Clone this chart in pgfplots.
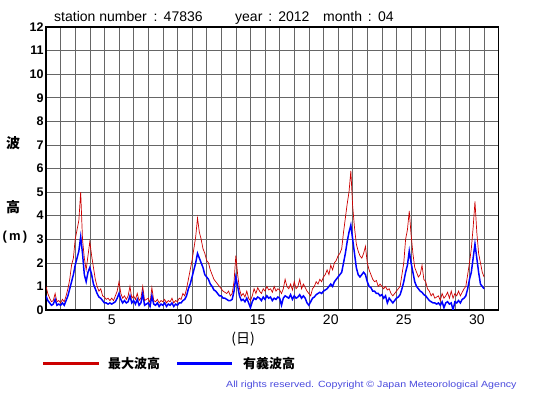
\documentclass[border=0pt]{standalone}
\usepackage{fontspec}
\setmainfont{Liberation Sans}
\newfontfamily\cjk{Noto Sans CJK JP}
\usepackage{pgfplots}
\usepackage{pgfplotstable}
\pgfplotsset{compat=1.18}
\definecolor{maxred}{HTML}{CC0000}
\definecolor{sigblue}{HTML}{0000FF}
\definecolor{copyblue}{HTML}{4A4ADD}
\definecolor{gridgray}{HTML}{666666}

\pgfplotstableread{
t r b
0 1.0 0.6
0.125 0.7 0.4
0.25 0.5 0.3
0.375 0.35 0.2
0.5 0.4 0.25
0.625 0.7 0.45
0.75 0.35 0.2
0.875 0.4 0.25
1.0 0.3 0.2
1.125 0.45 0.3
1.25 0.35 0.2
1.375 0.6 0.4
1.5 0.9 0.6
1.625 1.3 0.9
1.75 1.9 1.2
1.875 2.2 1.5
2.0 3.0 1.9
2.125 3.4 2.2
2.25 3.8 2.5
2.375 5.0 3.1
2.5 3.0 2.4
2.625 2.2 1.5
2.75 1.7 1.2
2.875 2.3 1.6
3.0 2.9 1.8
3.125 2.3 1.5
3.25 1.8 1.1
3.375 1.3 0.9
3.5 1.0 0.7
3.625 0.8 0.55
3.75 0.9 0.5
3.875 0.6 0.4
4.0 0.55 0.3
4.125 0.45 0.3
4.25 0.5 0.25
4.375 0.4 0.3
4.5 0.5 0.25
4.625 0.4 0.3
4.75 0.6 0.35
4.875 0.8 0.5
5.0 1.2 0.7
5.125 0.7 0.45
5.25 0.5 0.3
5.375 0.6 0.4
5.5 0.45 0.3
5.625 0.6 0.35
5.75 1.0 0.6
5.875 0.5 0.3
6.0 0.6 0.4
6.125 0.45 0.25
6.25 0.7 0.45
6.375 0.4 0.2
6.5 0.5 0.3
6.625 1.0 0.7
6.75 0.4 0.2
6.875 0.45 0.25
7.0 0.5 0.3
7.125 0.3 0.15
7.25 0.95 0.6
7.375 0.4 0.25
7.5 0.35 0.2
7.625 0.45 0.3
7.75 0.3 0.15
7.875 0.4 0.25
8.0 0.35 0.2
8.125 0.45 0.3
8.25 0.3 0.15
8.375 0.4 0.25
8.5 0.35 0.2
8.625 0.5 0.3
8.75 0.3 0.15
8.875 0.4 0.25
9.0 0.35 0.2
9.125 0.5 0.3
9.25 0.45 0.3
9.375 0.7 0.4
9.5 0.6 0.45
9.625 0.9 0.6
9.75 1.3 0.9
9.875 1.7 1.1
10.0 2.1 1.4
10.125 2.6 1.7
10.25 3.1 2.0
10.375 3.9 2.4
10.5 3.3 2.2
10.625 3.0 2.0
10.75 2.6 1.8
10.875 2.4 1.5
11.0 2.1 1.4
11.125 2.0 1.3
11.25 1.7 1.1
11.375 1.5 1.0
11.5 1.3 0.85
11.625 1.2 0.8
11.75 1.1 0.7
11.875 1.0 0.6
12.0 0.9 0.6
12.125 0.8 0.5
12.25 0.75 0.5
12.375 0.7 0.45
12.5 0.8 0.4
12.625 0.6 0.4
12.75 0.7 0.45
12.875 1.2 0.8
13.0 2.3 1.4
13.125 1.5 1.0
13.25 0.9 0.6
13.375 0.6 0.4
13.5 0.7 0.45
13.625 0.55 0.35
13.75 0.8 0.5
13.875 0.5 0.3
14.0 0.4 0.1
14.125 0.6 0.35
14.25 0.9 0.5
14.375 0.7 0.45
14.5 0.95 0.55
14.625 0.8 0.5
14.75 0.7 0.4
14.875 0.9 0.55
15.0 0.8 0.45
15.125 1.0 0.6
15.25 0.85 0.5
15.375 0.9 0.55
15.5 0.75 0.4
15.625 1.0 0.5
15.75 0.8 0.45
15.875 0.9 0.55
16.0 0.85 0.5
16.125 0.7 0.2
16.25 0.9 0.5
16.375 1.3 0.6
16.5 1.0 0.55
16.625 0.9 0.5
16.75 1.1 0.65
16.875 0.85 0.45
17.0 1.2 0.6
17.125 0.9 0.5
17.25 1.0 0.55
17.375 1.3 0.65
17.5 0.9 0.5
17.625 1.1 0.6
17.75 0.95 0.5
17.875 0.8 0.3
18.0 0.7 0.2
18.125 0.6 0.35
18.25 0.9 0.5
18.375 1.0 0.55
18.5 1.2 0.65
18.625 1.1 0.7
18.75 1.3 0.75
18.875 1.2 0.7
19.0 1.4 0.8
19.125 1.5 0.85
19.25 1.7 0.9
19.375 1.5 1.0
19.5 1.9 1.1
19.625 1.7 1.0
19.75 2.0 1.2
19.875 2.1 1.3
20.0 2.3 1.4
20.125 2.4 1.5
20.25 2.6 1.6
20.375 3.3 2.0
20.5 3.9 2.4
20.625 4.5 2.9
20.75 5.0 3.3
20.875 5.9 3.6
21.0 4.4 3.0
21.125 3.5 2.4
21.25 2.8 1.8
21.375 2.5 1.5
21.5 2.3 1.4
21.625 2.2 1.5
21.75 2.4 1.6
21.875 2.7 1.5
22.0 2.0 1.2
22.125 1.7 1.0
22.25 1.5 0.95
22.375 1.3 0.8
22.5 1.2 0.8
22.625 1.25 0.7
22.75 1.0 0.7
22.875 1.1 0.6
23.0 1.0 0.65
23.125 0.9 0.5
23.25 1.0 0.6
23.375 0.85 0.3
23.5 0.9 0.5
23.625 0.7 0.4
23.75 0.6 0.3
23.875 0.7 0.4
24.0 0.8 0.5
24.125 0.9 0.55
24.25 1.0 0.65
24.375 1.5 0.9
24.5 2.0 1.2
24.625 3.0 1.6
24.75 3.4 1.9
24.875 4.2 2.5
25.0 3.2 2.0
25.125 2.4 1.6
25.25 1.8 1.2
25.375 1.6 1.0
25.5 1.4 0.9
25.625 1.5 0.8
25.75 1.9 0.75
25.875 1.3 0.65
26.0 1.2 0.6
26.125 0.9 0.5
26.25 0.8 0.4
26.375 0.6 0.35
26.5 0.7 0.3
26.625 0.5 0.3
26.75 0.55 0.25
26.875 0.6 0.3
27.0 0.4 0.2
27.125 0.7 0.35
27.25 0.5 0.1
27.375 0.6 0.3
27.5 0.75 0.35
27.625 0.5 0.25
27.75 0.8 0.3
27.875 0.5 0.0
28.0 0.7 0.35
28.125 0.6 0.3
28.25 0.8 0.4
28.375 0.6 0.3
28.5 0.75 0.45
28.625 0.9 0.5
28.75 1.0 0.6
28.875 1.5 0.9
29.0 2.0 1.3
29.125 2.6 1.6
29.25 3.5 2.2
29.375 4.6 2.8
29.5 3.3 2.2
29.625 2.4 1.6
29.75 2.0 1.1
29.875 1.6 1.0
30.0 1.4 0.9
}\wavedata

\begin{document}
\begin{tikzpicture}[x=1pt,y=1pt]
\path[use as bounding box] (0,0) rectangle (555,395);
\begin{axis}[
  at={(46pt,85pt)}, anchor=south west,
  scale only axis, width=452.7pt, height=283pt,
  xmin=0, xmax=31, ymin=0, ymax=12,
  xtick={4.5,9.5,14.5,19.5,24.5,29.5},
  xticklabels={5,10,15,20,25,30},
  minor xtick={1,2,...,30},
  xmajorgrids=false, xminorgrids=true,
  ytick={0,1,...,12}, ymajorgrids=true,
  major grid style={draw=gridgray, line width=0.6pt},
  minor grid style={draw=gridgray, line width=0.6pt},
  major tick length=0pt, minor tick length=0pt,
  axis line style={line width=1.1pt},
  /pgf/number format/assume math mode=true,
  xticklabel style={font=\fontsize{14}{14}\selectfont, yshift=-1pt},
  yticklabel style={font=\bfseries\fontsize{12.5}{12.5}\selectfont, xshift=1pt},
]
\addplot[maxred, line width=0.7pt] table[x=t, y=r] {\wavedata};
\addplot[sigblue, line width=1.5pt] table[x=t, y=b] {\wavedata};
\end{axis}
\node[anchor=base west, inner sep=0pt, font=\fontsize{14}{14}\selectfont] at (54,373) {station number\hspace{3pt} : \hspace{1pt}47836};
\node[anchor=base west, inner sep=0pt, font=\fontsize{14}{14}\selectfont] at (235,373) {year\hspace{2pt} : \hspace{1pt}2012};
\node[anchor=base west, inner sep=0pt, font=\fontsize{14}{14}\selectfont] at (323,373) {month\hspace{2pt} : \hspace{1pt}04};
\node[font=\cjk\bfseries\fontsize{14}{14}\selectfont] at (13,252) {波};
\node[font=\cjk\bfseries\fontsize{14}{14}\selectfont] at (13,188) {高};
\node[font=\bfseries\fontsize{13}{13}\selectfont] at (15,158) {(\,m\,)};
\node[font=\cjk\fontsize{14}{14}\selectfont] at (243,56) {(日)};
\draw[maxred, line width=2.5pt] (43,31.7) -- (99,31.7);
\node[anchor=west, inner sep=0pt, font=\cjk\bfseries\fontsize{13}{13}\selectfont] at (108,31.7) {最大波高};
\draw[sigblue, line width=2.5pt] (177,31.7) -- (232,31.7);
\node[anchor=west, inner sep=0pt, font=\cjk\bfseries\fontsize{13}{13}\selectfont] at (243,31.7) {有義波高};
\node[anchor=base west, inner sep=0pt, text=copyblue, font=\fontsize{9}{9}\selectfont] at (226,7.5) {\scalebox{1.18}[1]{All rights reserved. Copyright © Japan Meteorological Agency}};
\end{tikzpicture}
\end{document}
